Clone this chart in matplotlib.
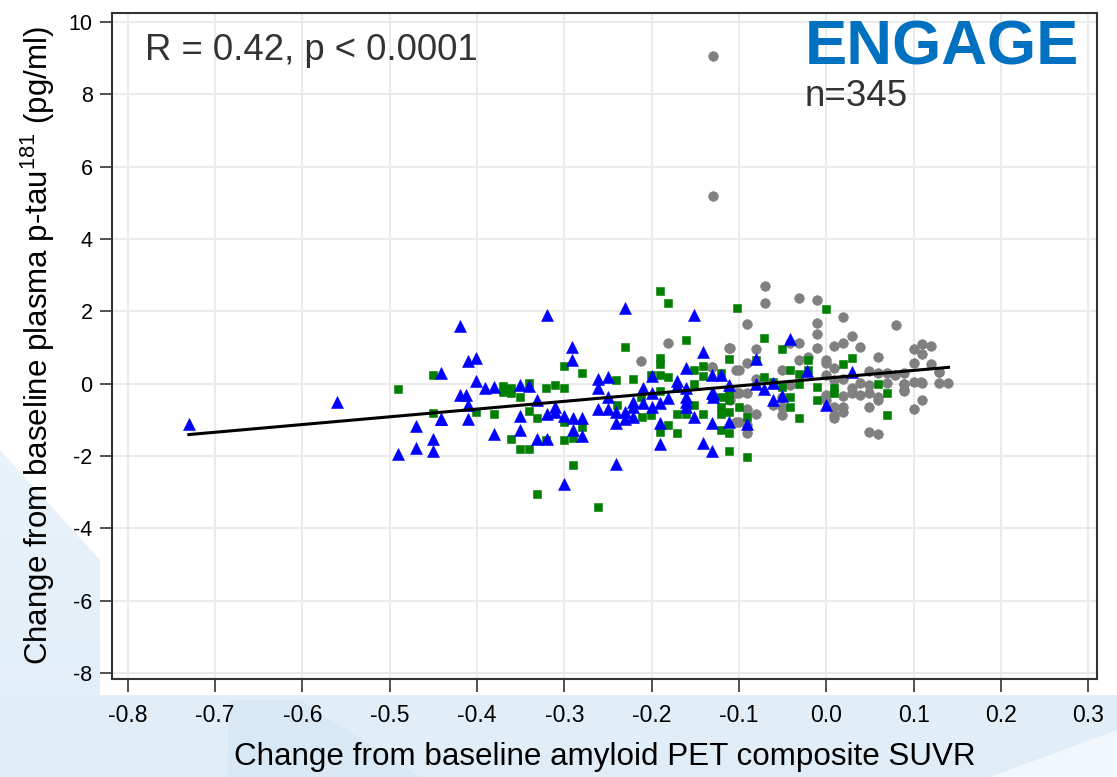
import numpy as np
import matplotlib
matplotlib.use("Agg")
import matplotlib.pyplot as plt
from matplotlib.patches import Polygon

plt.rcParams['font.family'] = ['Liberation Sans', 'DejaVu Sans']
plt.rcParams['mathtext.fontset'] = 'custom'
plt.rcParams['mathtext.rm'] = 'Liberation Sans'
plt.rcParams['axes.unicode_minus'] = False

# change in amyloid SUVR (x) vs change in plasma p-tau181 (y), three groups
gray_x = [-0.130, -0.130, -0.070, -0.070, -0.031, -0.011, -0.091, -0.011, 0.019, 0.080,
          -0.011, -0.110, -0.081, -0.041, -0.031, -0.011, 0.009, 0.019, 0.029, 0.039,
          0.059, 0.100, 0.110, 0.120, 0.110, 0.100, 0.120, 0.129, 0.129, 0.139,
          -0.131, -0.100, -0.091, -0.081, -0.051, -0.041, -0.031, -0.021, 0.000, 0.000,
          0.009, 0.000, 0.009, 0.019, 0.039, 0.049, 0.059, 0.069, 0.079, 0.089,
          0.089, 0.100, 0.110, 0.089, 0.069, 0.049, 0.029, 0.029, 0.019, 0.039,
          0.049, 0.059, 0.059, 0.000, 0.000, 0.009, 0.019, 0.019, 0.009, 0.009,
          0.049, 0.049, 0.059, 0.100, 0.110, -0.051, -0.051, -0.051, -0.061, -0.091,
          -0.091, -0.091, -0.081, -0.100, -0.100, -0.091, -0.110, -0.110, 0.089, 0.109,
          0.129, 0.089, -0.181, -0.212, -0.111, -0.131, -0.103, -0.103, -0.103, -0.131]
gray_y = [9.05, 5.20, 2.70, 2.23, 2.36, 2.31, 1.64, 1.68, 1.83, 1.61,
          1.37, 0.99, 0.97, 1.11, 1.13, 0.99, 1.04, 1.13, 1.31, 1.02,
          0.74, 0.95, 1.09, 1.04, 0.83, 0.58, 0.54, 0.32, 0.02, 0.01,
          0.45, 0.39, 0.56, 0.14, 0.39, -0.05, 0.65, 0.74, 0.65, 0.56,
          0.42, 0.24, 0.10, 0.14, 0.02, 0.35, 0.28, 0.28, 0.24, 0.28,
          -0.01, 0.05, 0.02, -0.18, 0.02, -0.04, -0.13, -0.25, -0.35, -0.32,
          -0.25, -0.36, -0.46, -0.32, -0.46, -0.64, -0.64, -0.78, -0.87, -0.96,
          -0.64, -1.33, -1.40, -0.69, -0.44, -0.36, -0.64, -0.87, -0.59, -0.69,
          -1.15, -1.38, -0.83, -1.06, -0.27, -0.27, -0.23, -0.44, 0.00, 0.05,
          0.33, -0.20, 1.13, 0.62, 0.99, 0.46, 0.39, -0.27, -1.06, -0.36]

green_x = [-0.191, -0.181, -0.102, -0.161, -0.231, -0.191, -0.191, -0.111, -0.300, -0.280,
           -0.340, -0.241, -0.221, -0.201, -0.191, -0.181, -0.151, -0.141, -0.141, -0.121,
           -0.151, -0.370, -0.361, -0.370, -0.361, -0.351, -0.321, -0.311, -0.300, -0.212,
           -0.191, -0.121, -0.111, -0.111, -0.121, -0.121, -0.111, -0.151, -0.161, -0.171,
           -0.141, -0.401, -0.381, -0.340, -0.331, -0.300, -0.280, -0.290, -0.300, -0.361,
           -0.351, -0.340, -0.321, -0.211, -0.201, -0.191, -0.181, -0.171, -0.121, -0.111,
           -0.111, -0.290, -0.331, -0.261, -0.240, -0.450, -0.491, -0.450, 0.000, -0.071,
           -0.051, -0.081, -0.021, 0.029, 0.019, -0.041, -0.031, -0.021, -0.071, -0.061,
           -0.051, -0.031, -0.011, 0.009, 0.009, 0.059, 0.069, 0.069, -0.041, -0.041,
           -0.011, -0.031, -0.100, -0.091, -0.091]
green_y = [2.56, 2.24, 2.10, 1.20, 1.00, 0.70, 0.54, 0.68, 0.48, 0.28,
           0.03, 0.10, 0.12, 0.24, 0.24, 0.17, 0.39, 0.48, 0.21, 0.28,
           0.00, -0.07, -0.13, -0.23, -0.27, -0.38, -0.12, -0.04, -0.13, -0.36,
           -0.20, -0.36, -0.27, -0.46, -0.64, -0.83, -0.78, -0.59, -0.83, -0.83,
           -0.83, -0.78, -0.84, -0.75, -0.94, -1.06, -1.19, -1.50, -1.56, -1.52,
           -1.82, -1.80, -1.56, -0.92, -0.87, -1.33, -1.15, -1.38, -1.29, -1.38,
           -1.86, -2.25, -3.06, -3.41, -0.59, 0.24, -0.16, -0.80, 2.06, 1.27,
           0.95, 0.65, 0.65, 0.72, 0.54, 0.39, 0.26, 0.39, 0.19, 0.05,
           -0.09, -0.01, -0.09, -0.13, -0.27, 0.00, -0.25, -0.87, -0.38, -0.64,
           -0.44, -0.94, -0.64, -0.92, -2.02]

blue_x = [-0.730, -0.560, -0.420, -0.441, -0.413, -0.441, -0.470, -0.450, -0.470, -0.450,
          -0.491, -0.320, -0.231, -0.151, -0.291, -0.291, -0.410, -0.401, -0.141, -0.161,
          -0.401, -0.391, -0.381, -0.351, -0.340, -0.420, -0.410, -0.441, -0.410, -0.331,
          -0.311, -0.311, -0.320, -0.351, -0.300, -0.290, -0.280, -0.381, -0.351, -0.331,
          -0.320, -0.290, -0.280, -0.300, -0.241, -0.261, -0.250, -0.261, -0.261, -0.250,
          -0.241, -0.231, -0.250, -0.241, -0.231, -0.221, -0.221, -0.221, -0.210, -0.210,
          -0.200, -0.200, -0.200, -0.191, -0.191, -0.191, -0.181, -0.171, -0.171, -0.161,
          -0.161, -0.161, -0.161, -0.151, -0.141, -0.131, -0.131, -0.131, -0.121, -0.111,
          -0.131, -0.111, -0.081, -0.041, -0.022, 0.029, -0.130, -0.130, -0.071, -0.061,
          -0.061, -0.051, 0.000, -0.091, -0.081]
blue_y = [-1.13, -0.50, 1.58, 0.30, -0.32, -0.99, -1.17, -1.53, -1.78, -1.87,
          -1.96, 1.91, 2.08, 1.91, 1.00, 0.65, 0.62, 0.72, 0.88, 0.42,
          0.08, -0.11, -0.09, -0.04, -0.07, -0.32, -0.59, -0.99, -0.99, -0.44,
          -0.64, -0.78, -0.84, -0.90, -0.90, -0.94, -0.96, -1.40, -1.27, -1.52,
          -1.52, -1.29, -1.45, -2.78, -2.21, 0.14, 0.17, -0.13, -0.71, -0.71,
          -0.78, -0.78, -0.36, -1.10, -0.99, -0.92, -0.50, -0.64, -0.55, -0.13,
          0.21, -0.27, -0.64, -0.55, -1.10, -1.67, -0.41, 0.08, -0.07, -0.11,
          -0.36, -0.50, -0.64, -0.92, -1.65, -1.86, -1.08, 0.24, 0.24, -0.04,
          -0.25, -1.06, 0.69, 1.22, 0.35, 0.33, -0.27, -0.36, -0.16, 0.02,
          -0.46, -0.35, -0.59, -1.13, 0.00]

# fitted regression line
fit_x = [-0.73, 0.14]
fit_y = [-1.41, 0.45]

x_ticks = [-0.8, -0.7, -0.6, -0.5, -0.4, -0.3, -0.2, -0.1, 0.0, 0.1, 0.2, 0.3]
y_ticks = [-8, -6, -4, -2, 0, 2, 4, 6, 8, 10]

W, H = 1117, 777
fig = plt.figure(figsize=(W / 100, H / 100), dpi=100)

# slide background behind the chart
bg = fig.add_axes([0, 0, 1, 1], zorder=-5)
bg.set_xlim(0, W)
bg.set_ylim(H, 0)
bg.axis('off')
g = np.linspace(0, 1, 256)[:, None]
top = np.array([0.96, 0.98, 0.995])
bot = np.array([0.88, 0.93, 0.97])
grad = (top * (1 - g) + bot * g)[:, :, None].transpose(0, 2, 1)
grad = np.repeat(grad, 2, axis=1)
bg.imshow(grad, extent=[0, W, H, 0], aspect='auto', zorder=0)
bg.add_patch(Polygon([(228, 700), (300, 700), (420, 777), (228, 777)], closed=True,
                     facecolor='#d6e8f5', edgecolor='none', alpha=0.8, zorder=1))
bg.add_patch(Polygon([(990, 777), (1117, 730), (1117, 777)], closed=True,
                     facecolor='#f2f7fb', edgecolor='none', zorder=1))
bg.add_patch(Polygon([(0, 0), (100, 0), (100, 560), (0, 450)], closed=True,
                     facecolor='white', edgecolor='none', zorder=2))
bg.add_patch(Polygon([(100, 0), (W, 0), (W, 695), (100, 695)], closed=True,
                     facecolor='white', edgecolor='none', zorder=2))

ax = fig.add_axes([112 / W, (H - 679) / H, 985 / W, 666 / H])
ax.set_facecolor('white')

ax.plot(gray_x, gray_y, linestyle='none', marker='o', markersize=7,
        color='#808080', markeredgewidth=0.4, zorder=3)
ax.plot(green_x, green_y, linestyle='none', marker='s', markersize=6.4,
        color='#007f00', markeredgewidth=0.4, zorder=4)
ax.plot(blue_x, blue_y, linestyle='none', marker='^', markersize=8,
        color='#0000ff', markeredgewidth=0.4, zorder=5)
ax.plot(fit_x, fit_y, color='black', linewidth=2.2, zorder=6)

ax.set_xlim(-0.818, 0.31)
ax.set_ylim(-8.17, 10.25)
ax.set_xticks(x_ticks)
ax.set_xticklabels(['%.1f' % v for v in x_ticks])
ax.set_yticks(y_ticks)
ax.grid(True, color='#ebebeb', linewidth=1.5, zorder=0)
ax.set_axisbelow(True)
for s in ax.spines.values():
    s.set_color('#333333')
    s.set_linewidth(1.5)
ax.tick_params(axis='both', direction='out', length=9, width=1.2, color='#333333',
               labelcolor='black')
ax.tick_params(axis='x', pad=9, labelsize=16.5)
ax.tick_params(axis='y', pad=5, labelsize=15.5)

ax.set_xlabel('Change from baseline amyloid PET composite SUVR', fontsize=22.6, labelpad=11)
ax.set_ylabel(r'Change from baseline plasma p-tau$^{\mathrm{181}}$ (pg/ml)', fontsize=22.5,
              labelpad=8)

ax.text(0.0335, 0.929, 'R = 0.42, p < 0.0001', transform=ax.transAxes, fontsize=26.3,
        color='#333333', ha='left', va='baseline')
ax.text(0.7036, 0.922, 'ENGAGE', transform=ax.transAxes, fontsize=45.5, fontweight='bold',
        color='#0070c0', ha='left', va='baseline')
ax.text(0.7036, 0.86, 'n=345', transform=ax.transAxes, fontsize=26.5,
        color='#333333', ha='left', va='baseline')

fig.savefig('out.png', dpi=100)
